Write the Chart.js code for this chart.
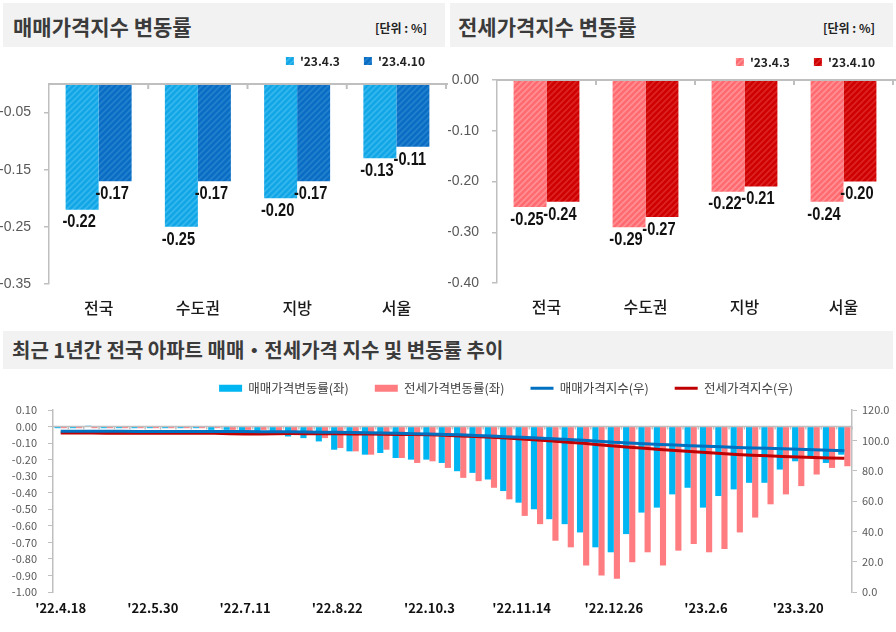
<!DOCTYPE html>
<html>
<head>
<meta charset="utf-8">
<script src="https://cdn.jsdelivr.net/npm/chart.js@4.4.1/dist/chart.umd.min.js"></script>
<style>
  body { margin: 0; width: 896px; height: 632px; position: relative; overflow: hidden; background: #fff;
         font-family: "Noto Sans CJK KR", "Noto Sans", sans-serif; }
  .band { position: absolute; background: #F2F2F2; }
  .band h2 { position: absolute; margin: 0; font-weight: 700; color: #3b3b3b; white-space: nowrap; }
  .unit { position: absolute; font-size: 12px; font-weight: 700; color: #222; }
  .box { position: absolute; }
</style>
</head>
<body>
<div class="band" style="left:3px;top:3px;width:442px;height:44px">
  <h2 style="left:10px;top:8px;font-size:21px;line-height:30px">매매가격지수 변동률</h2>
  <span class="unit" style="right:18px;top:16px">[단위 : %]</span>
</div>
<div class="band" style="left:450px;top:3px;width:443px;height:44px">
  <h2 style="left:8px;top:8px;font-size:21px;line-height:30px">전세가격지수 변동률</h2>
  <span class="unit" style="right:18px;top:16px">[단위 : %]</span>
</div>
<div class="band" style="left:3px;top:331px;width:890px;height:38px">
  <h2 style="left:9px;top:4px;font-size:20px;line-height:30px">최근 1년간 전국 아파트 매매・전세가격 지수 및 변동률 추이</h2>
</div>

<div class="box" style="left:0;top:48px;width:448px;height:280px"><canvas id="saleChart"></canvas></div>
<div class="box" style="left:448px;top:48px;width:448px;height:280px"><canvas id="jeonseChart"></canvas></div>
<div class="box" style="left:0;top:372px;width:896px;height:260px"><canvas id="trendChart"></canvas></div>

<script>
// ---- top panels: weekly change by region (%)
const regions = ['전국', '수도권', '지방', '서울'];
const weekNames = ["'23.4.3", "'23.4.10"];
const saleApr3 = [-0.22, -0.25, -0.20, -0.13];
const saleApr10 = [-0.17, -0.17, -0.17, -0.11];
const jeonseApr3 = [-0.25, -0.29, -0.22, -0.24];
const jeonseApr10 = [-0.24, -0.27, -0.21, -0.20];
const saleTicks = [-0.05, -0.15, -0.25, -0.35];
const jeonseTicks = [0, -0.10, -0.20, -0.30, -0.40];

// ---- bottom panel: last 52 weeks
const weeks = ["'22.4.18", "'22.4.25", "'22.5.2", "'22.5.9", "'22.5.16", "'22.5.23", "'22.5.30", "'22.6.6",
  "'22.6.13", "'22.6.20", "'22.6.27", "'22.7.4", "'22.7.11", "'22.7.18", "'22.7.25", "'22.8.1", "'22.8.8",
  "'22.8.15", "'22.8.22", "'22.8.29", "'22.9.5", "'22.9.12", "'22.9.19", "'22.9.26", "'22.10.3", "'22.10.10",
  "'22.10.17", "'22.10.24", "'22.10.31", "'22.11.7", "'22.11.14", "'22.11.21", "'22.11.28", "'22.12.5",
  "'22.12.12", "'22.12.19", "'22.12.26", "'23.1.2", "'23.1.9", "'23.1.16", "'23.1.23", "'23.1.30", "'23.2.6",
  "'23.2.13", "'23.2.20", "'23.2.27", "'23.3.6", "'23.3.13", "'23.3.20", "'23.3.27", "'23.4.3", "'23.4.10"];
const trendNames = ['매매가격변동률(좌)', '전세가격변동률(좌)', '매매가격지수(우)', '전세가격지수(우)'];
const saleChange = [-0.01, -0.01, 0.005, -0.01, -0.01, -0.01, -0.01, -0.01, -0.01, -0.01,
  -0.02, -0.02, -0.03, -0.03, -0.04, -0.06, -0.07, -0.09, -0.14, -0.15,
  -0.17, -0.16, -0.19, -0.20, -0.20, -0.22, -0.27, -0.28, -0.32, -0.39,
  -0.46, -0.50, -0.56, -0.59, -0.64, -0.73, -0.76, -0.65, -0.52, -0.49,
  -0.41, -0.37, -0.49, -0.42, -0.38, -0.34, -0.34, -0.26, -0.21, -0.18,
  -0.22, -0.17];
const jeonseChange = [-0.01, -0.01, -0.01, -0.01, -0.01, -0.01, -0.01, -0.01, -0.01, -0.01,
  -0.01, -0.02, -0.02, -0.02, -0.03, -0.04, -0.05, -0.07, -0.13, -0.15,
  -0.17, -0.14, -0.19, -0.22, -0.21, -0.25, -0.31, -0.33, -0.37, -0.44,
  -0.54, -0.59, -0.69, -0.73, -0.84, -0.90, -0.92, -0.82, -0.76, -0.84,
  -0.75, -0.71, -0.76, -0.74, -0.64, -0.55, -0.47, -0.41, -0.36, -0.29,
  -0.25, -0.24];
const saleIndex = [106.0, 106.0, 106.0, 106.0, 106.0, 105.9, 105.9, 105.9, 105.9, 105.9,
  105.8, 105.8, 105.8, 105.7, 105.7, 105.6, 105.5, 105.4, 105.3, 105.1,
  105.0, 104.8, 104.6, 104.4, 104.1, 103.9, 103.6, 103.2, 102.8, 102.4,
  102.0, 101.5, 101.1, 100.6, 100.0, 99.4, 98.7, 98.3, 97.8, 97.3,
  96.9, 96.5, 96.1, 95.7, 95.3, 95.0, 94.7, 94.4, 94.1, 93.8,
  93.5, 93.2];
const jeonseIndex = [104.8, 104.8, 104.8, 104.7, 104.7, 104.7, 104.7, 104.7, 104.6, 104.6,
  104.6, 104.3, 104.1, 104.2, 104.4, 104.5, 104.4, 104.3, 104.3, 104.2,
  104.1, 104.0, 103.9, 103.8, 103.7, 103.3, 102.9, 102.5, 102.0, 101.5,
  100.9, 100.3, 99.6, 98.8, 98.0, 97.1, 96.3, 95.5, 94.8, 94.0,
  93.3, 92.6, 92.0, 91.3, 90.7, 90.2, 89.8, 89.4, 89.0, 88.7,
  88.4, 88.2];
const changeTicks = [0.10, 0.00, -0.10, -0.20, -0.30, -0.40, -0.50, -0.60, -0.70, -0.80, -0.90, -1.00];
const indexTicks = [0, 20, 40, 60, 80, 100, 120];

const AXIS = '#BFBFBF';
const TICK_TEXT = '#595959';

// diagonal stripes like the excel fill
function hatch(base, stripe) {
  const c = document.createElement('canvas');
  c.width = c.height = 6;
  const g = c.getContext('2d');
  g.fillStyle = base;
  g.fillRect(0, 0, 6, 6);
  g.strokeStyle = stripe;
  g.lineWidth = 1.6;
  g.beginPath();
  g.moveTo(0, 6); g.lineTo(6, 0);
  g.moveTo(-1, 1); g.lineTo(1, -1);
  g.moveTo(5, 7); g.lineTo(7, 5);
  g.stroke();
  return g.createPattern(c, 'repeat');
}

// value 0 line with small ticks between categories
const zeroAxis = {
  id: 'zeroAxis',
  afterDatasetsDraw(chart, args, opts) {
    const { ctx, chartArea, scales } = chart;
    const y = scales.y.getPixelForValue(0);
    const x = scales.x;
    const n = chart.data.labels.length;
    ctx.save();
    ctx.strokeStyle = AXIS;
    ctx.lineWidth = opts.width;
    ctx.beginPath();
    ctx.moveTo(chartArea.left, y);
    ctx.lineTo(opts.right || chartArea.right, y);
    for (let i = 1; i <= n; i++) {
      const bx = i < n ? (x.getPixelForValue(i - 1) + x.getPixelForValue(i)) / 2 : chartArea.right;
      ctx.moveTo(bx, y);
      ctx.lineTo(bx, y + opts.tick);
    }
    ctx.stroke();
    ctx.restore();
  }
};

// value labels under the bar ends
const barLabels = {
  id: 'barLabels',
  afterDatasetsDraw(chart) {
    const { ctx } = chart;
    ctx.save();
    ctx.font = 'bold 19px "Liberation Sans", Arial, sans-serif';
    ctx.fillStyle = '#111';
    ctx.textAlign = 'center';
    ctx.textBaseline = 'top';
    chart.data.datasets.forEach((ds, di) => {
      chart.getDatasetMeta(di).data.forEach((bar, i) => {
        ctx.save();
        ctx.translate(bar.x - 3, bar.y + 3);
        ctx.scale(0.77, 1);
        ctx.fillText(ds.data[i].toFixed(2), 0, 0);
        ctx.restore();
      });
    });
    ctx.restore();
  }
};

// put the legend where the picture has it
const placeLegend = {
  id: 'placeLegend',
  afterLayout(chart, args, opts) {
    const lg = chart.legend;
    if (!lg) return;
    if (opts.left !== undefined) lg.left = opts.left;
    if (opts.right !== undefined) lg.right = opts.right;
    lg.top = opts.cy - lg.options.labels.padding - (lg._itemHeight || 12) / 2;
  }
};

function regionChart(id, dataA, dataB, fills, yMin, yTicks, lay) {
  return new Chart(document.getElementById(id), {
    type: 'bar',
    data: {
      labels: regions,
      datasets: [
        { label: weekNames[0], data: dataA, backgroundColor: fills[0], borderWidth: 0,
          categoryPercentage: 0.665, barPercentage: 1.0 },
        { label: weekNames[1], data: dataB, backgroundColor: fills[1], borderWidth: 0,
          categoryPercentage: 0.665, barPercentage: 1.0 }
      ]
    },
    options: {
      responsive: true,
      maintainAspectRatio: false,
      animation: false,
      layout: { padding: { left: 0, right: lay.padRight, top: 0, bottom: 0 } },
      plugins: {
        tooltip: { enabled: false },
        legend: {
          position: 'top',
          align: 'end',
          maxHeight: lay.legendH,
          labels: { boxWidth: 8, boxHeight: 8, padding: 24, color: '#222',
                    font: { family: '"Noto Sans CJK KR", sans-serif', size: 12, weight: 'bold' } }
        },
        placeLegend: { right: lay.legendRight, cy: lay.legendY },
        zeroAxis: { width: 2, tick: 5, right: lay.lineRight }
      },
      scales: {
        x: {
          grid: { display: false, drawTicks: false },
          border: { display: false },
          ticks: { color: '#1a1a1a', padding: 14,
                   font: { family: '"Noto Sans CJK KR", sans-serif', size: 16, weight: 500 } },
          afterFit: s => { s.height = lay.xH; }
        },
        y: {
          min: yMin,
          max: 0,
          grid: { drawOnChartArea: false, color: AXIS, tickLength: 5, lineWidth: 1.5 },
          border: { color: AXIS, width: 1.5 },
          ticks: { color: TICK_TEXT, padding: 13,
                   font: { family: '"Liberation Sans Narrow", "Liberation Sans", sans-serif', size: 14 },
                   callback: v => Number(v).toFixed(2) },
          afterBuildTicks: s => { s.ticks = yTicks.map(v => ({ value: v })); },
          afterFit: s => { s.width = 49; }
        }
      }
    },
    plugins: [zeroAxis, barLabels, placeLegend]
  });
}

regionChart('saleChart', saleApr3, saleApr10,
  [hatch('#12A6E6', '#36B7EE'), hatch('#0A6DC3', '#2481CE')],
  -0.35, saleTicks, { padRight: 2, legendH: 36, legendRight: 449, legendY: 13, xH: 44, lineRight: 448 });

regionChart('jeonseChart', jeonseApr3, jeonseApr10,
  [hatch('#FF6B70', '#FF9094'), hatch('#CF0000', '#DC2424')],
  -0.40, jeonseTicks, { padRight: 3, legendH: 32, legendRight: 451, legendY: 14, xH: 45, lineRight: 448 });

// ---- bottom trend chart
new Chart(document.getElementById('trendChart'), {
  type: 'bar',
  data: {
    labels: weeks,
    datasets: [
      { label: trendNames[0], data: saleChange, backgroundColor: '#00B6F2', borderWidth: 0,
        categoryPercentage: 0.8, barPercentage: 1.0, yAxisID: 'y', order: 1, pointStyle: 'rect' },
      { label: trendNames[1], data: jeonseChange, backgroundColor: '#FF7C80', borderWidth: 0,
        categoryPercentage: 0.8, barPercentage: 1.0, yAxisID: 'y', order: 1, pointStyle: 'rect' },
      { type: 'line', label: trendNames[2], data: saleIndex, borderColor: '#0070C0', backgroundColor: '#0070C0',
        borderWidth: 3, pointRadius: 0, tension: 0, yAxisID: 'y1', order: 0, pointStyle: 'line' },
      { type: 'line', label: trendNames[3], data: jeonseIndex, borderColor: '#C00000', backgroundColor: '#C00000',
        borderWidth: 3, pointRadius: 0, tension: 0, yAxisID: 'y1', order: 0, pointStyle: 'line' }
    ]
  },
  options: {
    responsive: true,
    maintainAspectRatio: false,
    animation: false,
    layout: { padding: 0 },
    plugins: {
      tooltip: { enabled: false },
      legend: {
        position: 'top',
        align: 'center',
        maxHeight: 38,
        labels: {
          usePointStyle: true, pointStyleWidth: 23, boxHeight: 7, padding: 26, color: '#404040',
          font: { family: '"Noto Sans CJK KR", sans-serif', size: 12.5 },
          sort: (a, b) => a.datasetIndex - b.datasetIndex
        }
      },
      placeLegend: { left: 116, right: 896, cy: 16 },
      zeroAxis: { width: 1.5, tick: 3 }
    },
    scales: {
      x: {
        grid: { display: false, drawTicks: false },
        border: { display: false },
        ticks: { autoSkip: false, maxRotation: 0, minRotation: 0, padding: 8, color: '#111',
                 font: { family: '"Noto Sans CJK KR", sans-serif', size: 13, weight: 'bold' },
                 callback: (v, i) => (i % 6 === 0 ? weeks[i] : '') },
        afterFit: s => { s.height = 40; }
      },
      y: {
        position: 'left',
        min: -1.0,
        max: 0.1,
        grid: { drawOnChartArea: false, color: AXIS, tickLength: 5 },
        border: { color: AXIS, width: 1.5 },
        ticks: { color: TICK_TEXT, padding: 11,
                 font: { family: '"Noto Sans CJK KR", sans-serif', size: 11 },
                 callback: v => Number(v).toFixed(2) },
        afterBuildTicks: s => { s.ticks = changeTicks.map(v => ({ value: v })); },
        afterFit: s => { s.width = 53; }
      },
      y1: {
        position: 'right',
        min: 0,
        max: 120,
        grid: { drawOnChartArea: false, color: AXIS, tickLength: 5 },
        border: { color: AXIS, width: 1.5 },
        ticks: { color: TICK_TEXT, padding: 5,
                 font: { family: '"Noto Sans CJK KR", sans-serif', size: 11 },
                 callback: v => Number(v).toFixed(1) },
        afterBuildTicks: s => { s.ticks = indexTicks.map(v => ({ value: v })); },
        afterFit: s => { s.width = 44; }
      }
    }
  },
  plugins: [zeroAxis, placeLegend]
});
</script>
</body>
</html>
